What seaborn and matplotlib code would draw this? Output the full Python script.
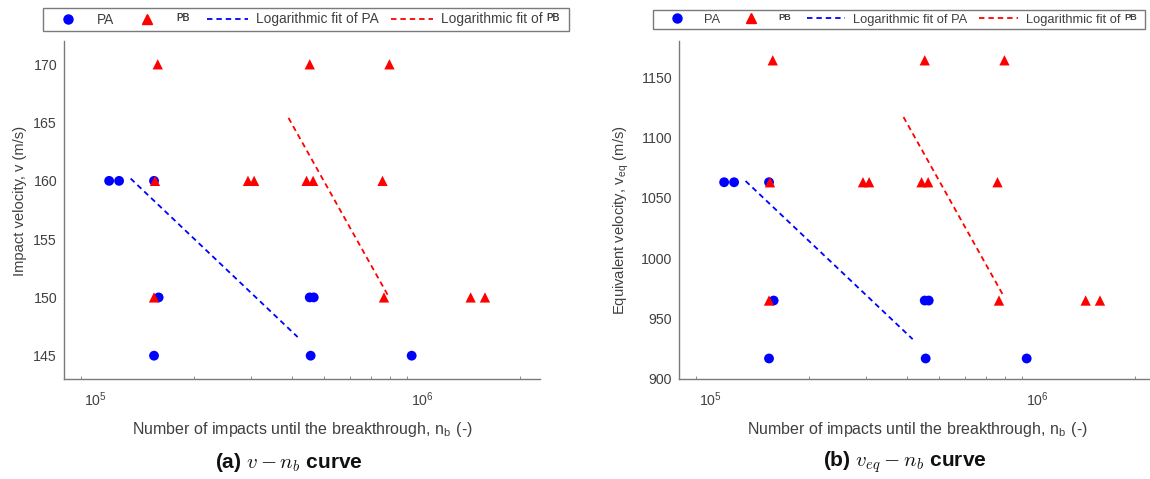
import numpy as np
import pandas as pd
import matplotlib
matplotlib.use("Agg")
import matplotlib.pyplot as plt
from matplotlib.lines import Line2D
from matplotlib.font_manager import FontProperties
from matplotlib.ticker import LogLocator, LogFormatterMathtext, NullFormatter, FixedLocator
import seaborn as sns

# ---------------- data ----------------
pa_n = [1.10e5, 1.18e5, 1.51e5, 1.56e5, 1.51e5, 4.53e5, 4.66e5, 4.56e5, 9.3e5]
pa_v = [160, 160, 160, 150, 145, 150, 150, 145, 145]
pa_veq = [1063, 1063, 1063, 965, 917, 965, 965, 917, 917]

pb_n = [1.55e5, 1.52e5, 1.51e5, 2.93e5, 3.06e5, 4.53e5, 4.43e5, 4.64e5,
        7.57e5, 7.95e5, 7.65e5, 1.41e6, 1.56e6]
pb_v = [170, 160, 150, 160, 160, 170, 160, 160, 160, 170, 150, 150, 150]
pb_veq = [1164, 1063, 965, 1063, 1063, 1164, 1063, 1063, 1063, 1164, 965, 965, 965]

# end points of the logarithmic fits (straight on a log-x axis)
fit_pa_n = [1.28e5, 4.16e5]
fit_pa_v = [160.2, 146.6]
fit_pa_veq = [1064, 933]
fit_pb_n = [3.90e5, 7.93e5]
fit_pb_v = [165.4, 150.0]
fit_pb_veq = [1117, 968]

y_ticks_a = [145, 150, 155, 160, 165, 170]
y_ticks_b = [900, 950, 1000, 1050, 1100, 1150]
legend_labels = ['PA', 'PB', 'Logarithmic fit of PA', 'Logarithmic fit of PB']
FIT_PREFIX = 'Logarithmic fit of'
SMALL = 'PB'

# ---------------- style ----------------
sns.set_theme(style="white")
plt.rcParams['font.family'] = ['Liberation Sans', 'DejaVu Sans']
plt.rcParams['mathtext.fontset'] = 'cm'
TXT = '#404040'
AX = '#7a7a7a'
FS_TICK = 10.2
FS_XLAB = 11.5
FS_YLAB = 10.6

pts = pd.DataFrame({
    'n': pa_n + pb_n,
    'v': pa_v + pb_v,
    'veq': pa_veq + pb_veq,
    'group': ['PA'] * len(pa_n) + ['PB'] * len(pb_n),
})
fits = pd.DataFrame({
    'n': fit_pa_n + fit_pb_n,
    'v': fit_pa_v + fit_pb_v,
    'veq': fit_pa_veq + fit_pb_veq,
    'group': ['PA', 'PA', 'PB', 'PB'],
})
palette = {'PA': (0, 0, 1), 'PB': (1, 0, 0)}
DASH = (0, (3.0, 2.2))

fig = plt.figure(figsize=(11.5, 4.79), dpi=100)
W, H = 1150, 479
axw = 476 / W
axh = 338 / H
yb = (H - 379) / H
ax1 = fig.add_axes([64 / W, yb, axw, axh])
ax2 = fig.add_axes([679 / W, yb, axw, axh])

def draw(ax, ycol, ylim, yticks, ylabel, ylab_x, ylab_y):
    ax.set_xscale('log')
    sns.lineplot(data=fits, x='n', y=ycol, hue='group', palette=palette,
                 ax=ax, legend=False, linewidth=1.3, linestyle=DASH,
                 estimator=None, sort=False, units='group')
    sns.scatterplot(data=pts[pts.group == 'PA'], x='n', y=ycol, color=palette['PA'],
                    marker='o', s=50, edgecolor='none', ax=ax, legend=False, zorder=3)
    sns.scatterplot(data=pts[pts.group == 'PB'], x='n', y=ycol, color=palette['PB'],
                    marker='^', s=55, edgecolor='none', ax=ax, legend=False, zorder=4)
    ax.set_xlim(8e4, 2.3e6)
    ax.set_ylim(*ylim)
    ax.yaxis.set_major_locator(FixedLocator(yticks))
    ax.xaxis.set_major_locator(LogLocator(base=10, numticks=10))
    ax.xaxis.set_major_formatter(LogFormatterMathtext())
    ax.xaxis.set_minor_locator(LogLocator(base=10, subs=np.arange(2, 10), numticks=20))
    ax.xaxis.set_minor_formatter(NullFormatter())
    for s in ['top', 'right']:
        ax.spines[s].set_visible(False)
    for s in ['left', 'bottom']:
        ax.spines[s].set_color(AX)
        ax.spines[s].set_linewidth(1.0)
    ax.tick_params(axis='both', which='major', direction='in', length=4, width=0.8,
                   color=AX, labelcolor=TXT, labelsize=FS_TICK)
    ax.tick_params(axis='x', which='major', pad=8)
    ax.tick_params(axis='y', which='major', pad=5)
    ax.tick_params(axis='x', which='minor', direction='in', length=2.2, width=0.6,
                   color=AX, bottom=True)
    ax.set_xlabel(r'Number of impacts until the breakthrough, n$_\mathregular{b}$ (-)',
                  color=TXT, fontsize=FS_XLAB, va='top')
    ax.xaxis.set_label_coords(0.5, -0.12)
    ax.set_ylabel(ylabel, color=TXT, fontsize=FS_YLAB)
    ax.yaxis.set_label_coords(ylab_x, ylab_y)
    ax.grid(False)

draw(ax1, 'v', (143, 172), y_ticks_a, 'Impact velocity, v (m/s)', -0.078, 0.527)
draw(ax2, 'veq', (900, 1180), y_ticks_b,
     r'Equivalent velocity, v$_\mathregular{eq}$ (m/s)', -0.10, 0.47)

# legends
def make_legend(cx, fs):
    handles = [
        Line2D([], [], color='blue', marker='o', linestyle='none', markersize=6.5),
        Line2D([], [], color='red', marker='^', linestyle='none', markersize=6.5),
        Line2D([], [], color='blue', linestyle=DASH, linewidth=1.3),
        Line2D([], [], color='red', linestyle=DASH, linewidth=1.3),
    ]
    leg = fig.legend(handles, legend_labels, loc='center',
                     bbox_to_anchor=(cx / W, 1 - 19.5 / H),
                     ncol=4, frameon=True, fancybox=False, fontsize=fs,
                     handlelength=3.0, handletextpad=0.6, columnspacing=0.9,
                     borderpad=0.3, borderaxespad=0, framealpha=1.0)
    leg.get_frame().set_edgecolor('#7a7a7a')
    leg.get_frame().set_linewidth(1.0)
    for t in leg.get_texts():
        t.set_color(TXT)
    return leg

legs = [(make_legend(306, 9.9), 9.9, 7.0), (make_legend(899, 9.3), 9.3, 6.6)]

# the reference draws "PB" in the legend with a smaller font: hide the
# placeholder labels and write the same words over them
fig.canvas.draw()
renderer = fig.canvas.get_renderer()
px_per_pt = 100 / 72
for leg, fs, sfs in legs:
    texts = leg.get_texts()
    _, _, desc = renderer.get_text_width_height_descent(
        'lp', FontProperties(family=['Liberation Sans'], size=fs), ismath=False)
    b0 = texts[0].get_window_extent(renderer)
    base = b0.y0 + desc
    small_base = base + 0.716 * (fs - sfs) * px_per_pt - 0.5
    b1 = texts[1].get_window_extent(renderer)
    b3 = texts[3].get_window_extent(renderer)
    texts[1].set_alpha(0)
    texts[3].set_alpha(0)
    fig.text(b1.x0 / W, small_base / H, SMALL, ha='left', va='baseline', fontsize=sfs,
             fontweight='bold', color=TXT, zorder=20)
    main = fig.text(b3.x0 / W, b3.y0 / H, FIT_PREFIX, ha='left', va='bottom',
                    fontsize=fs, color=TXT, zorder=20)
    mb = main.get_window_extent(renderer)
    fig.text((mb.x1 + 0.3 * fs * px_per_pt) / W, small_base / H, SMALL, ha='left',
             va='baseline', fontsize=sfs, fontweight='bold', color=TXT, zorder=20)

# captions
fig.text(289 / W, 1 - 462 / H, r'(a) $v - n_b$ curve', ha='center', va='center',
         fontsize=15, fontweight='bold', color='#111111')
fig.text(905 / W, 1 - 462 / H, r'(b) $v_{eq} - n_b$ curve', ha='center', va='center',
         fontsize=15, fontweight='bold', color='#111111')

fig.savefig('out.png', dpi=100)
